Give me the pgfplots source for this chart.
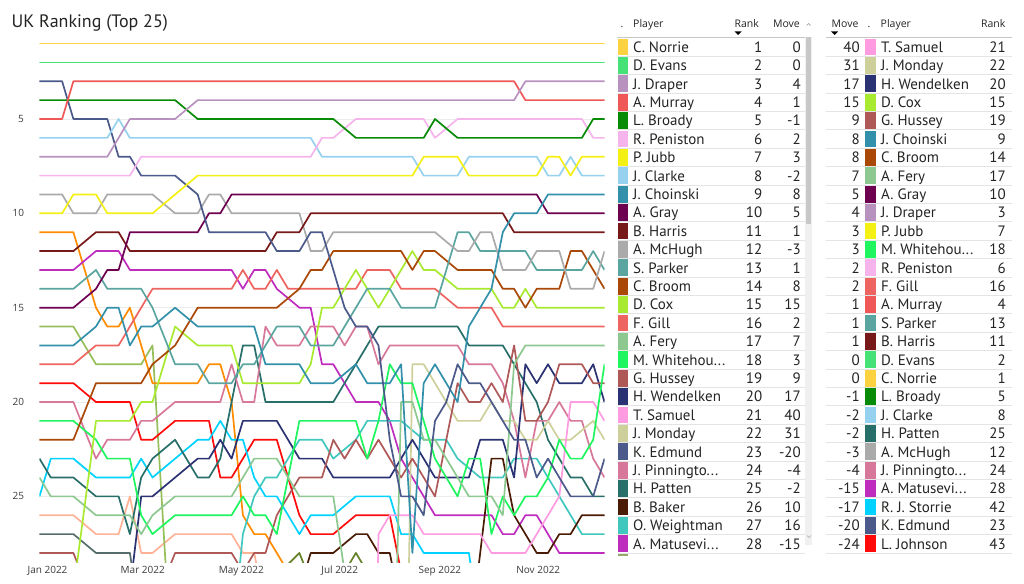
\documentclass[border=0pt]{standalone}
\usepackage{pgfplots}
\pgfplotsset{compat=1.18}
\usepackage{fontspec}
\setmainfont{PT Sans}
\newfontfamily\hdrfont{Open Sans}
\newfontfamily\tblfont{PT Sans}
\newcommand\el{...}
\definecolor{txt}{RGB}{37,36,35}
\definecolor{tickc}{RGB}{60,60,60}
\definecolor{gridc}{RGB}{236,236,236}
\definecolor{sepc}{RGB}{228,228,228}
\definecolor{cNorrie}{RGB}{252,210,64}
\definecolor{cEvans}{RGB}{70,226,120}
\definecolor{cDraper}{RGB}{184,146,190}
\definecolor{cMurray}{RGB}{240,88,88}
\definecolor{cBroady}{RGB}{8,140,8}
\definecolor{cPeniston}{RGB}{245,180,235}
\definecolor{cJubb}{RGB}{245,240,20}
\definecolor{cClarke}{RGB}{150,210,240}
\definecolor{cChoinski}{RGB}{50,144,170}
\definecolor{cGray}{RGB}{110,0,80}
\definecolor{cHarris}{RGB}{120,25,25}
\definecolor{cMcHugh}{RGB}{170,170,170}
\definecolor{cParker}{RGB}{90,165,160}
\definecolor{cBroom}{RGB}{170,72,8}
\definecolor{cCox}{RGB}{168,234,48}
\definecolor{cGill}{RGB}{238,100,96}
\definecolor{cFery}{RGB}{142,200,145}
\definecolor{cWhitehouse}{RGB}{30,245,95}
\definecolor{cHussey}{RGB}{175,88,88}
\definecolor{cWendelken}{RGB}{42,50,115}
\definecolor{cSamuel}{RGB}{255,155,225}
\definecolor{cMonday}{RGB}{205,208,155}
\definecolor{cEdmund}{RGB}{75,90,138}
\definecolor{cPinnington}{RGB}{215,120,155}
\definecolor{cPatten}{RGB}{40,110,105}
\definecolor{cBaker}{RGB}{75,28,5}
\definecolor{cWeightman}{RGB}{65,200,190}
\definecolor{cMatusevich}{RGB}{190,45,190}
\definecolor{cStorrie}{RGB}{0,210,255}
\definecolor{cJohnson}{RGB}{255,10,10}
\definecolor{cOrange}{RGB}{255,140,0}
\definecolor{cOlive}{RGB}{150,190,90}
\definecolor{cSalmon}{RGB}{255,178,150}
\definecolor{cSlate}{RGB}{85,110,108}
\definecolor{cDkOlive}{RGB}{100,130,40}
\definecolor{sbthumb}{RGB}{200,200,200}
\definecolor{sbtrack}{RGB}{240,240,240}
\begin{document}
\begin{tikzpicture}
\begin{scope}[x=1pt,y=1pt]
\path[use as bounding box] (0,0) rectangle (1024,583);
\node[anchor=base west,inner sep=0,text=txt,font=\fontsize{18}{20}\selectfont] at (11.5,555) {UK Ranking (Top 25)};
\end{scope}
\begin{axis}[
  at={(39.5pt,20.6pt)}, anchor=south west,
  scale only axis, width=565pt, height=528.3pt,
  xmin=0, xmax=50, ymin=0.5, ymax=28.5, y dir=reverse,
  axis line style={draw=none},
  major tick length=0pt,
  xtick={0.71,9.14,17.86,26.57,35.43,44.14},
  xticklabels={Jan 2022,Mar 2022,May 2022,Jul 2022,Sep 2022,Nov 2022},
  ytick={5,10,15,20,25},
  ymajorgrids, grid style={draw=gridc, line width=0.8pt},
  tick label style={font=\hdrfont\fontsize{10}{12}\selectfont, text=tickc},
  yticklabel style={xshift=-12pt},
  /pgf/number format/assume math mode=true,
  every axis plot/.append style={line width=1.7pt, line join=round},
  clip=true,
]
% off-top-25 players
\addplot[cDkOlive] coordinates {(20,32)(21,29.2)(23,28)(24,29.5)(26,30)(28,28)(29,29)(30,32)};
\addplot[cSlate] coordinates {(0,27)(3,27)(5,28)(8,28)(9,32)};
\addplot[cSalmon] coordinates {(0,26)(3,26)(5,27)(7,27)(8,25)(9,28)(10,28)(12,27)(17,27)(18,28)(19,28)(20,31)};
\addplot[cOlive] coordinates {(0,16)(3,16)(5,18)(9,18)(10,17)(11,27)(12,37)};
\addplot[cOrange] coordinates {(0,11)(3,11)(5,15)(6,16)(7,16)(8,15)(10,19)(14,19)(15,18)(16,18)(17,20)(18,26)(19,27)(20,27)(22,29)(23,35)};
\addplot[cJohnson] coordinates {(0,19)(3,19)(5,20)(8,20)(9,22)(10,22)(12,21)(15,21)(16,24)(17,24)(19,22)(21,22)(22,24)(23,26)(24,27)(26,27)(28,26)(31,26)(32,29)(33,40)(50,43)};
\addplot[cStorrie] coordinates {(0,25)(1,23)(3,23)(5,24)(8,24)(9,23)(10,24)(12,23)(14,22)(15,22)(16,21)(17,22)(18,22)(19,24)(20,25)(21,25)(23,27)(24,26)(26,26)(28,25)(31,25)(32,27)(33,27)(34,28)(38,28)(39,32)(40,42)(50,42)};
\addplot[cMatusevich] coordinates {(0,13)(3,13)(5,12)(7,12)(8,13)(17,13)(18,14)(19,13)(20,13)(21,14)(23,15)(24,15)(25,18)(26,18)(28,20)(29,20)(30,20)(31,21)(32,23)(33,24)(34,25)(35,26)(40,26)(41,27)(42,27)(43,26)(44,26)(46,28)(50,28)};
\addplot[cWeightman] coordinates {(0,43)(16,43)(17,33)(18,27)(19,25)(20,24)(21,24)(23,22)(25,22)(26,23)(28,22)(29,21)(32,21)(34,22)(36,22)(37,23)(39,24)(41,24)(42,23)(44,23)(45,24)(46,25)(47,26)(48,27)(50,27)};
\addplot[cBaker] coordinates {(0,36)(22,36)(23,30)(24,28)(26,28)(28,27)(29,27)(30,28)(31,28)(32,31)(33,36)(37,36)(38,33)(39,28)(40,23)(41,23)(42,26)(43,27)(44,28)(45,28)(46,27)(47,27)(48,26)(50,26)};
\addplot[cPatten] coordinates {(0,23)(1,24)(3,24)(5,25)(7,25)(8,27)(9,24)(10,23)(12,22)(14,24)(15,24)(16,23)(17,20)(18,17)(19,17)(20,20)(26,20)(28,18)(29,17)(30,16)(37,16)(38,17)(41,17)(42,18)(43,19)(44,20)(45,22)(46,23)(47,24)(48,24)(49,25)(50,25)};
\addplot[cPinnington] coordinates {(0,20)(3,20)(5,23)(6,22)(8,22)(9,21)(10,21)(12,20)(16,20)(17,18)(18,20)(19,20)(20,16)(21,17)(23,17)(24,16)(26,16)(27,17)(28,16)(29,16)(30,18)(31,17)(37,17)(38,18)(40,18)(41,19)(42,21)(43,24)(44,21)(45,21)(46,20)(47,21)(48,21)(49,23)(50,24)};
\addplot[cMonday] coordinates {(0,53)(32,53)(33,18)(34,18)(35,19)(36,20)(37,21)(39,21)(40,20)(41,21)(42,21)(43,22)(44,22)(45,21)(46,22)(47,22)(49,21)(50,22)};
\addplot[cSamuel] coordinates {(0,61)(29,61)(30,27)(31,26)(33,26)(34,27)(38,27)(39,27)(40,28)(43,28)(44,27)(45,26)(46,25)(47,20)(49,20)(50,21)};
\addplot[cWendelken] coordinates {(0,37)(7,37)(8,30)(9,25)(10,25)(12,24)(14,23)(15,23)(16,22)(17,23)(18,21)(21,21)(23,23)(25,23)(26,24)(31,24)(33,22)(35,24)(38,24)(39,22)(41,22)(42,24)(43,18)(44,19)(45,18)(46,19)(48,19)(49,18)(50,20)};
\addplot[cHussey] coordinates {(0,28)(3,28)(4,29.5)(11,29.5)(12,28)(17,28)(18,29)(19,28)(20,28)(21,26)(23,24)(25,24)(26,22)(27,23)(28,22)(29,23)(30,22)(31,23)(32,24)(33,23)(35,25)(37,19)(38,20)(39,20)(40,19)(41,20)(42,17)(43,21)(44,21)(45,20)(46,18)(48,18)(49,19)(50,19)};
\addplot[cWhitehouse] coordinates {(0,21)(3,21)(5,22)(6,23)(8,23)(9,26)(10,27)(12,26)(17,26)(18,25)(19,26)(20,26)(21,27)(23,21)(28,21)(29,23)(30,21)(31,18)(32,19)(33,19)(34,21)(35,23)(36,24)(37,25)(38,23)(39,23)(40,27)(41,25)(42,26)(43,25)(44,25)(45,24)(46,22)(47,23)(48,23)(49,22)(50,18)};
\addplot[cFery] coordinates {(0,24)(1,25)(3,25)(5,26)(8,26)(9,27)(10,26)(12,25)(17,25)(19,23)(21,23)(23,25)(26,25)(27,29)(28,35)(31,45)(32,20)(33,20)(34,22)(35,22)(36,23)(37,24)(38,25)(40,25)(41,26)(42,18)(43,17)(50,17)};
\addplot[cGill] coordinates {(0,18)(3,18)(5,17)(7,17)(10,14)(17,14)(18,13)(19,14)(20,14)(21,13)(22,14)(28,14)(29,13)(31,13)(32,14)(35,14)(37,15)(40,15)(41,16)(50,16)};
\addplot[cCox] coordinates {(0,30)(3,30)(5,21)(8,21)(9,20)(10,20)(12,16)(14,17)(17,17)(18,19)(23,19)(24,18)(25,15)(26,15)(27,14)(28,13)(29,14)(30,15)(31,14)(32,13)(33,12)(34,13)(35,13)(37,14)(40,14)(41,15)(42,15)(43,14)(44,15)(50,15)};
\addplot[cBroom] coordinates {(0,22)(3,22)(5,19)(9,19)(10,18)(12,17)(14,15)(21,15)(23,14)(24,13)(25,13)(26,12)(32,12)(33,13)(34,12)(35,12)(37,13)(40,13)(41,14)(42,14)(43,15)(44,14)(46,14)(47,12)(48,12)(50,14)};
\addplot[cParker] coordinates {(0,14)(3,14)(5,13)(6,14)(9,14)(10,15)(12,18)(14,18)(15,19)(17,19)(18,18)(19,18)(20,17)(21,16)(23,16)(24,17)(26,17)(27,16)(28,15)(29,14)(31,14)(32,15)(35,15)(36,13)(37,11)(38,11)(39,12)(43,12)(44,13)(48,13)(49,12)(50,13)};
\addplot[cMcHugh] coordinates {(0,9)(2,9)(3,10)(5,10)(6,9)(10,9)(12,10)(14,10)(15,9)(16,9)(17,10)(23,10)(24,12)(25,12)(26,11)(35,11)(37,12)(38,12)(39,11)(40,11)(41,13)(43,13)(44,12)(46,12)(47,14)(49,14)(50,12)};
\addplot[cHarris] coordinates {(0,12)(3,12)(5,11)(7,11)(8,12)(20,12)(21,11)(23,11)(24,10)(41,10)(42,11)(50,11)};
\addplot[cGray] coordinates {(0,15)(3,15)(5,14)(6,13)(7,13)(8,11)(14,11)(15,10)(16,10)(17,9)(44,9)(45,10)(50,10)};
\addplot[cChoinski] coordinates {(0,17)(3,17)(5,16)(6,15)(7,15)(8,17)(9,16)(10,16)(12,15)(14,16)(19,16)(20,18)(23,18)(24,19)(26,19)(28,18)(29,19)(31,19)(32,18)(33,28)(34,19)(35,18)(36,19)(37,20)(38,16)(40,14)(41,11)(42,10)(44,10)(45,9)(50,9)};
\addplot[cEdmund] coordinates {(0,3)(2,3)(3,5)(6,5)(7,7)(8,7)(9,8)(12,8)(14,9)(15,11)(20,11)(21,12)(23,12)(24,11)(25,11)(27,15)(28,16)(29,16)(30,17)(31,22)(32,25)(33,25)(34,26)(35,21)(36,20)(37,18)(38,19)(39,19)(40,20)(41,21)(42,22)(43,22)(44,24)(45,23)(46,24)(47,25)(49,25)(50,23)};
\addplot[cClarke] coordinates {(0,6)(6,6)(7,5)(8,6)(24,6)(25,7)(33,7)(34,8)(37,8)(38,7)(44,7)(45,8)(46,8)(47,7)(48,8)(50,8)};
\addplot[cJubb] coordinates {(0,10)(2,10)(3,9)(5,9)(6,10)(10,10)(14,8)(33,8)(34,7)(37,7)(38,8)(44,8)(45,7)(46,7)(47,8)(48,7)(50,7)};
\addplot[cPeniston] coordinates {(0,8)(8,8)(9,7)(24,7)(25,6)(26,6)(28,5)(34,5)(35,6)(37,5)(48,5)(49,6)(50,6)};
\addplot[cBroady] coordinates {(0,4)(12,4)(14,5)(26,5)(28,6)(34,6)(35,5)(37,6)(48,6)(49,5)(50,5)};
\addplot[cMurray] coordinates {(0,5)(2,5)(3,3)(42,3)(43,4)(50,4)};
\addplot[cDraper] coordinates {(0,7)(6,7)(8,5)(12,5)(14,4)(42,4)(43,3)(50,3)};
\addplot[cEvans] coordinates {(0,2)(50,2)};
\addplot[cNorrie] coordinates {(0,1)(50,1)};
\end{axis}
\begin{scope}[x=1pt,y=1pt]
% ---------- Table 1 ----------
\fill[sbtrack] (805,38) rectangle (812,545.7);
\fill[sbthumb] (805.8,359) rectangle (811.4,545.7);
\draw[gray!70,line width=0.6pt] (806.6,557.5)--(808.6,559.5)--(810.6,557.5);
\draw[gray!70,line width=0.6pt] (807,47.5)--(809,45.5)--(811,47.5);
\begin{scope}[font=\hdrfont\fontsize{10.5}{12}\selectfont, text=txt]
\node[anchor=base west,inner sep=0] at (620.5,555.3) {.};
\node[anchor=base west,inner sep=0] at (633,555.3) {Player};
\node[anchor=base east,inner sep=0] at (759,555.3) {Rank};
\node[anchor=base east,inner sep=0] at (800,555.3) {Move};
\node[anchor=base west,inner sep=0] at (831.5,555.3) {Move};
\node[anchor=base west,inner sep=0] at (867.5,555.3) {.};
\node[anchor=base west,inner sep=0] at (880.5,555.3) {Player};
\node[anchor=base east,inner sep=0] at (1005.5,555.3) {Rank};
\end{scope}
\fill[black] (734.5,551.5) -- (741.5,551.5) -- (738,548) -- cycle;
\fill[black] (831,551.5) -- (838,551.5) -- (834.5,548) -- cycle;
\draw[gray!45,line width=1.2pt] (617,545.7) -- (805,545.7);
\draw[gray!45,line width=1.2pt] (826,545.7) -- (1012,545.7);
\foreach \c/\n/\r/\m [count=\i from 0] in {
cNorrie/C. Norrie/1/0, cEvans/D. Evans/2/0, cDraper/J. Draper/3/4, cMurray/A. Murray/4/1,
cBroady/L. Broady/5/-1, cPeniston/R. Peniston/6/2, cJubb/P. Jubb/7/3, cClarke/J. Clarke/8/-2,
cChoinski/J. Choinski/9/8, cGray/A. Gray/10/5, cHarris/B. Harris/11/1, cMcHugh/A. McHugh/12/-3,
cParker/S. Parker/13/1, cBroom/C. Broom/14/8, cCox/D. Cox/15/15, cGill/F. Gill/16/2,
cFery/A. Fery/17/7, cWhitehouse/M. Whitehou\el/18/3, cHussey/G. Hussey/19/9,
cWendelken/H. Wendelken/20/17, cSamuel/T. Samuel/21/40, cMonday/J. Monday/22/31,
cEdmund/K. Edmund/23/-20, cPinnington/J. Pinningto\el/24/-4, cPatten/H. Patten/25/-2,
cBaker/B. Baker/26/10, cWeightman/O. Weightman/27/16, cMatusevich/A. Matusevi\el/28/-15}{
  \pgfmathsetmacro\yy{536-18.4*\i}
  \fill[\c] (617.5,{\yy-8.4}) rectangle (628,{\yy+8.4});
  \draw[sepc,line width=0.9pt] (617.5,{\yy-9.2}) -- (805,{\yy-9.2});
  \node[anchor=base west,inner sep=0,text=txt,font=\tblfont\fontsize{15}{17}\selectfont] at (633,{\yy-5.3}) {\n};
  \node[anchor=base east,inner sep=0,text=txt,font=\tblfont\fontsize{15}{17}\selectfont] at (762.5,{\yy-5.3}) {\r};
  \node[anchor=base east,inner sep=0,text=txt,font=\tblfont\fontsize{15}{17}\selectfont] at (801,{\yy-5.3}) {\m};
}
\fill[cDkOlive!70] (617.5,27.2) rectangle (628,29.2);
% ---------- Table 2 ----------
\foreach \m/\c/\n/\r [count=\i from 0] in {
40/cSamuel/T. Samuel/21, 31/cMonday/J. Monday/22, 17/cWendelken/H. Wendelken/20, 15/cCox/D. Cox/15,
9/cHussey/G. Hussey/19, 8/cChoinski/J. Choinski/9, 8/cBroom/C. Broom/14, 7/cFery/A. Fery/17,
5/cGray/A. Gray/10, 4/cDraper/J. Draper/3, 3/cJubb/P. Jubb/7, 3/cWhitehouse/M. Whitehou\el/18,
2/cPeniston/R. Peniston/6, 2/cGill/F. Gill/16, 1/cMurray/A. Murray/4, 1/cParker/S. Parker/13,
1/cHarris/B. Harris/11, 0/cEvans/D. Evans/2, 0/cNorrie/C. Norrie/1, -1/cBroady/L. Broady/5,
-2/cClarke/J. Clarke/8, -2/cPatten/H. Patten/25, -3/cMcHugh/A. McHugh/12, -4/cPinnington/J. Pinningto\el/24,
-15/cMatusevich/A. Matusevi\el/28, -17/cStorrie/R. J. Storrie/42, -20/cEdmund/K. Edmund/23, -24/cJohnson/L. Johnson/43}{
  \pgfmathsetmacro\yy{536-18.4*\i}
  \fill[\c] (864.5,{\yy-8.4}) rectangle (876,{\yy+8.4});
  \draw[sepc,line width=0.9pt] (826,{\yy-9.2}) -- (1012,{\yy-9.2});
  \node[anchor=base east,inner sep=0,text=txt,font=\tblfont\fontsize{15}{17}\selectfont] at (860,{\yy-5.3}) {\m};
  \node[anchor=base west,inner sep=0,text=txt,font=\tblfont\fontsize{15}{17}\selectfont] at (881,{\yy-5.3}) {\n};
  \node[anchor=base east,inner sep=0,text=txt,font=\tblfont\fontsize{15}{17}\selectfont] at (1006,{\yy-5.3}) {\r};
}
\end{scope}
\end{tikzpicture}
\end{document}
